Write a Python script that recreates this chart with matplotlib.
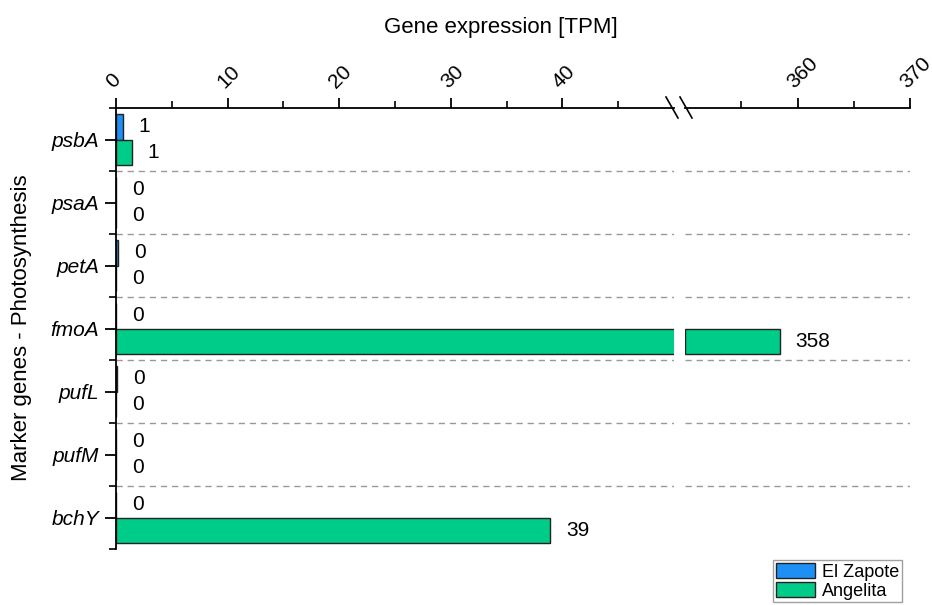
import matplotlib
matplotlib.use("Agg")
import matplotlib.pyplot as plt
from matplotlib.patches import Patch
import numpy as np

plt.rcParams['font.family'] = ['Liberation Sans', 'DejaVu Sans']

genes = ["psbA", "psaA", "petA", "fmoA", "pufL", "pufM", "bchY"]
el_zapote = [0.6, 0.0, 0.2, 0.0, 0.1, 0.0, 0.0]
angelita = [1.4, 0.0, 0.0, 358.4, 0.0, 0.0, 38.9]
series_names = ["El Zapote", "Angelita"]
colors = ["#1E90F5", "#00CC8A"]

left_range = (0, 50)
right_range = (350, 370)
left_ticks = [0, 10, 20, 30, 40]
right_ticks = [360, 370]

W, H = 932, 605
fig = plt.figure(figsize=(W / 100, H / 100), dpi=100)

def box(x0, x1, y0, y1):
    return [x0 / W, 1 - y1 / H, (x1 - x0) / W, (y1 - y0) / H]

axL = fig.add_axes(box(116, 674, 108, 549))
axR = fig.add_axes(box(685, 910, 108, 549))

y = np.arange(len(genes))
bh = 0.41

for ax, (lo, hi) in ((axL, left_range), (axR, right_range)):
    ax.set_xlim(lo, hi)
    ax.set_ylim(len(genes) - 0.5, -0.5)
    for s in ("bottom", "right", "left"):
        ax.spines[s].set_visible(False)
    ax.spines["top"].set_linewidth(1.3)
    ax.xaxis.tick_top()
    ax.tick_params(axis="x", direction="out", length=7, width=1.3, pad=5,
                   labelsize=15)
    ax.tick_params(axis="x", which="minor", direction="out", length=5, width=1.2)
    for b in np.arange(0.5, len(genes) - 0.5, 1):
        ax.axhline(b, color="#999999", lw=1.0, ls=(0, (4.5, 3.5)), zorder=0)
    for i in range(len(genes)):
        for k, vals in enumerate((el_zapote, angelita)):
            v = vals[i]
            yy = y[i] + (k - 0.5) * bh
            if ax is axL:
                ax.barh(yy, v, height=bh, left=0, color=colors[k],
                        edgecolor="#222222", lw=1.0, zorder=2)
                if v < hi:
                    ax.annotate(f"{round(v)}", (v, yy), xytext=(16, 0),
                                textcoords="offset pixels", ha="left",
                                va="center", fontsize=15)
            else:
                if v > lo:
                    ax.barh(yy, v - lo, height=bh, left=lo, color=colors[k],
                            edgecolor="#222222", lw=1.0, zorder=2)
                    ax.annotate(f"{round(v)}", (v, yy), xytext=(16, 0),
                                textcoords="offset pixels", ha="left",
                                va="center", fontsize=15, annotation_clip=False)

axL.set_xticks(left_ticks)
axL.set_xticks(np.arange(5, 50, 10), minor=True)
axR.set_xticks(right_ticks)
axR.set_xticks([355, 365], minor=True)
for ax in (axL, axR):
    plt.setp(ax.get_xticklabels(), rotation=45, ha="left", va="bottom",
             rotation_mode="anchor")

axL.spines["left"].set_visible(True)
axL.spines["left"].set_linewidth(1.3)
axL.set_yticks(y)
axL.set_yticklabels(genes, fontstyle="italic", fontsize=15)
axL.set_yticks(np.arange(-0.5, len(genes), 1), minor=True)
axL.tick_params(axis="y", which="major", direction="out", length=8, width=1.3, pad=4)
axL.tick_params(axis="y", which="minor", direction="out", length=5, width=1.2)
axR.set_yticks([])

# break marks
for dx in (672, 686):
    fig.add_artist(plt.Line2D([(dx - 6) / W, (dx + 6) / W],
                              [1 - 97 / H, 1 - 118 / H],
                              color="black", lw=1.2))

fig.text(501 / W, 1 - 28 / H, "Gene expression [TPM]", ha="center",
         va="center", fontsize=16)
fig.text(22 / W, 1 - 328 / H, "Marker genes - Photosynthesis", ha="center",
         va="center", rotation=90, fontsize=16)

handles = [Patch(facecolor=c, edgecolor="#222222", lw=1.0) for c in colors]
fig.legend(handles, series_names, loc="upper left",
           bbox_to_anchor=(773 / W, 1 - 560 / H), fontsize=13,
           frameon=True, fancybox=False, edgecolor="#888888",
           handlelength=2.2, handleheight=0.95, handletextpad=0.35,
           borderpad=0.15, labelspacing=0.05, borderaxespad=0)

fig.savefig("out.png", dpi=100)
